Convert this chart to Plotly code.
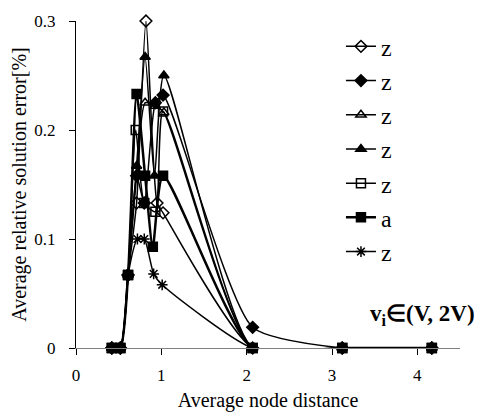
import plotly.graph_objects as go

names = ["z", "z", "z", "z", "z", "a", "z"]
symbols = ["diamond-open", "diamond", "triangle-up-open", "triangle-up",
           "square-open", "square", "asterisk-open"]

x1 = [0.42, 0.52, 0.61, 0.71, 0.82, 0.95, 1.02, 2.07, 3.12, 4.17]
y1 = [0.0, 0.0, 0.067, 0.133, 0.300, 0.133, 0.124, 0.0, 0.0, 0.0]
x2 = [0.42, 0.52, 0.61, 0.71, 0.80, 0.93, 1.02, 2.07, 3.12, 4.17]
y2 = [0.0, 0.0, 0.067, 0.158, 0.133, 0.225, 0.232, 0.019, 0.0, 0.0]
x3 = [0.42, 0.52, 0.61, 0.71, 0.81, 0.93, 1.03, 2.07, 3.12, 4.17]
y3 = [0.0, 0.0, 0.067, 0.158, 0.225, 0.222, 0.216, 0.0, 0.0, 0.0]
x4 = [0.42, 0.52, 0.61, 0.71, 0.81, 0.92, 1.03, 2.07, 3.12, 4.17]
y4 = [0.0, 0.0, 0.067, 0.167, 0.267, 0.158, 0.250, 0.0, 0.0, 0.0]
x5 = [0.42, 0.52, 0.61, 0.70, 0.80, 0.93, 1.02, 2.07, 3.12, 4.17]
y5 = [0.0, 0.0, 0.067, 0.200, 0.133, 0.125, 0.217, 0.0, 0.0, 0.0]
x6 = [0.42, 0.52, 0.61, 0.71, 0.81, 0.90, 1.02, 2.07, 3.12, 4.17]
y6 = [0.0, 0.0, 0.067, 0.233, 0.158, 0.093, 0.158, 0.0, 0.0, 0.0]
x7 = [0.42, 0.52, 0.61, 0.72, 0.80, 0.91, 1.01, 2.07, 3.12, 4.17]
y7 = [0.0, 0.0, 0.067, 0.100, 0.100, 0.068, 0.058, 0.0, 0.0, 0.0]

xs = [x1, x2, x3, x4, x5, x6, x7]
ys = [y1, y2, y3, y4, y5, y6, y7]
widths = [1.5, 1.5, 1.5, 1.5, 1.5, 2.5, 1.5]

serif = "Liberation Serif"

fig = go.Figure()
for i in range(7):
    fig.add_trace(go.Scatter(
        x=xs[i], y=ys[i], name=names[i], mode="lines+markers",
        line=dict(color="black", width=widths[i], shape="spline", smoothing=0.6),
        marker=dict(symbol=symbols[i], size=9, color="black",
                    line=dict(color="black", width=1.5)),
        legendgroup="g%d" % i, cliponaxis=False,
    ))

fig.update_layout(
    width=481, height=419,
    margin=dict(l=76, r=21, t=17, b=69),
    paper_bgcolor="white", plot_bgcolor="white",
    font=dict(family=serif, size=17, color="black"),
    showlegend=True,
    legend=dict(x=0.69, y=0.99, xanchor="left", yanchor="top",
                font=dict(size=24, family=serif), bgcolor="rgba(0,0,0,0)",
                tracegroupgap=0, itemwidth=30),
    xaxis=dict(range=[0, 4.5], tickvals=[0, 1, 2, 3, 4], ticks="outside",
               ticklen=6, tickcolor="black", showline=True, linecolor="gray",
               linewidth=1, showgrid=False, zeroline=False, ticklabelstandoff=6,
               title=dict(text="Average node distance", font=dict(size=20, family=serif), standoff=8),
               tickfont=dict(size=17, family=serif)),
    yaxis=dict(range=[0, 0.3], tickvals=[0, 0.1, 0.2, 0.3],
               ticktext=["0", "0.1", "0.2", "0.3"], ticks="outside",
               ticklen=6, tickcolor="black", showline=True, linecolor="black",
               linewidth=1, showgrid=False, zeroline=False, ticklabelstandoff=10,
               title=dict(text="Average relative solution error[%]", font=dict(size=20, family=serif), standoff=2),
               tickfont=dict(size=17, family=serif)),
    annotations=[dict(x=1.045, y=0.10, xref="paper", yref="paper",
                      xanchor="right", yanchor="middle", showarrow=False,
                      text="<b>v<sub>i</sub>∈(V, 2V)</b>",
                      font=dict(size=23, family=serif))],
)

fig.write_html("out.html")
